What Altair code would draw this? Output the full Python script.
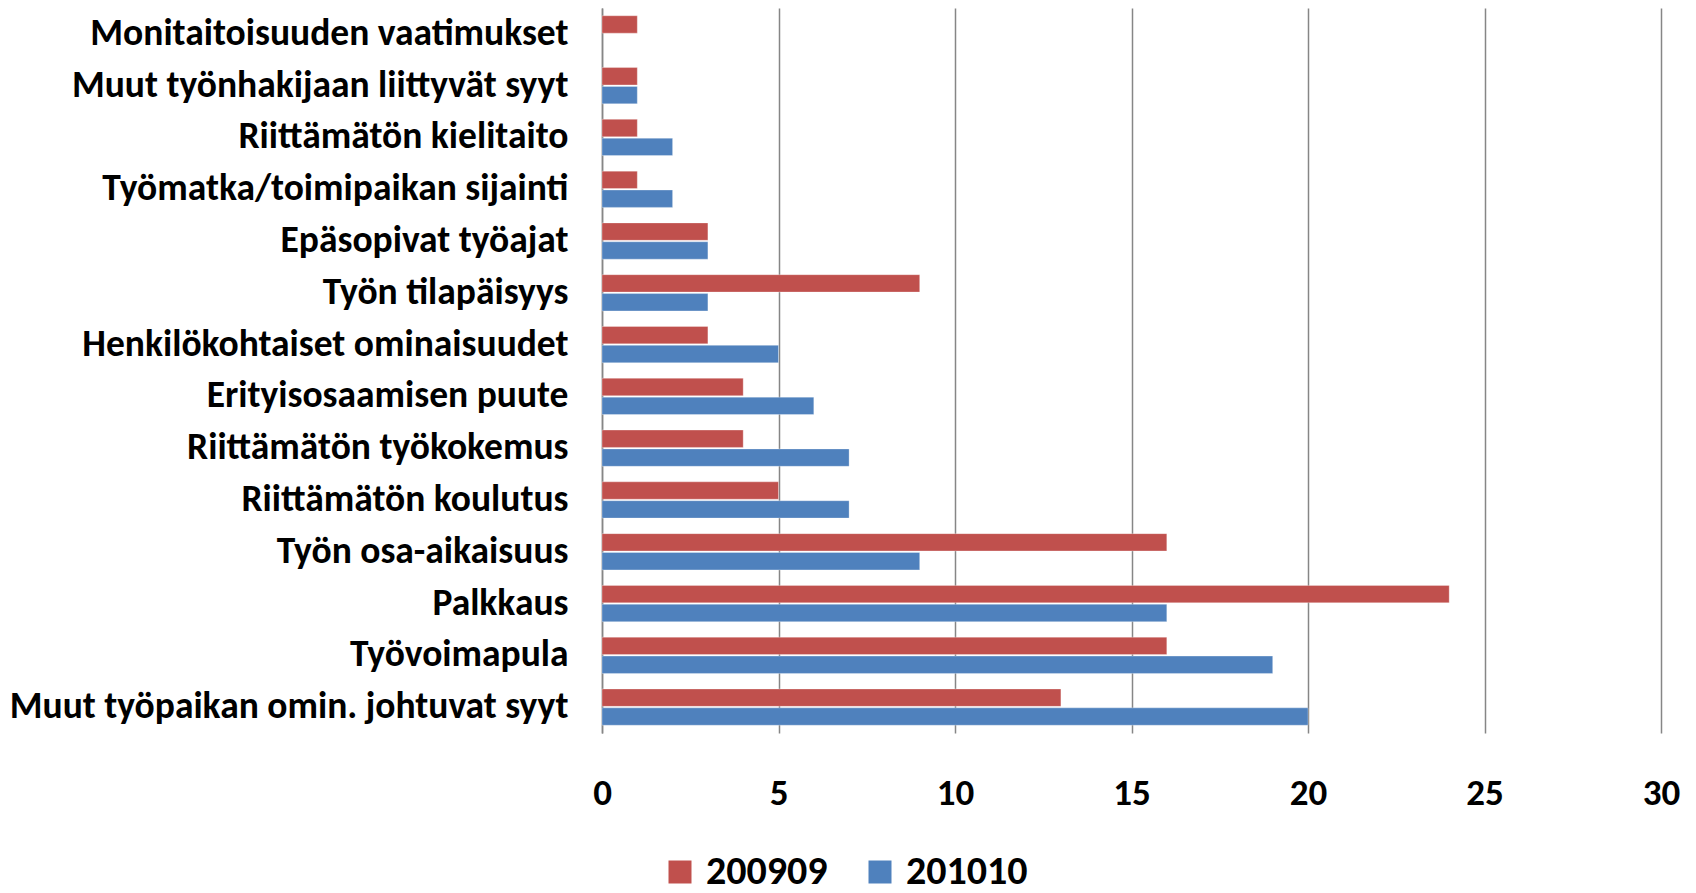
import altair as alt
import pandas as pd

categories = [
    "Monitaitoisuuden vaatimukset",
    "Muut työnhakijaan liittyvät syyt",
    "Riittämätön kielitaito",
    "Työmatka/toimipaikan sijainti",
    "Epäsopivat työajat",
    "Työn tilapäisyys",
    "Henkilökohtaiset ominaisuudet",
    "Erityisosaamisen puute",
    "Riittämätön työkokemus",
    "Riittämätön koulutus",
    "Työn osa-aikaisuus",
    "Palkkaus",
    "Työvoimapula",
    "Muut työpaikan omin. johtuvat syyt",
]
series_names = ["200909", "201010"]
values_200909 = [1, 1, 1, 1, 3, 9, 3, 4, 4, 5, 16, 24, 16, 13]
values_201010 = [None, 1, 2, 2, 3, 3, 5, 6, 7, 7, 9, 16, 19, 20]
colors = ["#C0504D", "#4F81BD"]
x_ticks = [0, 5, 10, 15, 20, 25, 30]

rows = []
for c, a, b in zip(categories, values_200909, values_201010):
    rows.append({"Syy": c, "Sarja": series_names[0], "Arvo": a})
    if b is not None:
        rows.append({"Syy": c, "Sarja": series_names[1], "Arvo": b})
df = pd.DataFrame(rows)

FONT = "Carlito, Liberation Sans Narrow, Roboto, Liberation Sans, sans-serif"

chart = (
    alt.Chart(df)
    .mark_bar(stroke="white", strokeWidth=0.5, strokeOpacity=0.6)
    .encode(
        y=alt.Y(
            "Syy:N",
            sort=categories,
            scale=alt.Scale(paddingInner=0.3, paddingOuter=0.15),
            axis=alt.Axis(
                title=None,
                ticks=False,
                labelFontSize=37.5,
                labelFont=FONT,
                labelFontWeight="bold",
                labelColor="#000000",
                labelPadding=34,
                labelLimit=700,
                domainColor="#868686",
                domainWidth=1.5,
                minExtent=594,
                maxExtent=594,
                grid=False,
            ),
        ),
        yOffset=alt.YOffset(
            "Sarja:N",
            sort=series_names,
            scale=alt.Scale(paddingInner=0.08),
        ),
        x=alt.X(
            "Arvo:Q",
            scale=alt.Scale(domain=[0, 30], nice=False),
            axis=alt.Axis(
                title=None,
                values=x_ticks,
                ticks=False,
                domain=False,
                grid=True,
                gridColor="#868686",
                gridWidth=1.5,
                labelFontSize=37,
                labelFont=FONT,
                labelFontWeight="bold",
                labelColor="#000000",
                labelPadding=42,
                labelFlush=False,
            ),
        ),
        color=alt.Color(
            "Sarja:N",
            sort=series_names,
            scale=alt.Scale(domain=series_names, range=colors),
            legend=alt.Legend(
                title=None,
                orient="none",
                direction="horizontal",
                legendX=58,
                legendY=844,
                symbolType="square",
                symbolSize=529,
                symbolStrokeWidth=0,
                symbolOpacity=1,
                labelFontSize=40,
                labelFont=FONT,
                labelFontWeight="bold",
                labelColor="#000000",
                labelOffset=6,
                columnPadding=32,
                labelLimit=300,
            ),
        ),
    )
    .properties(width=1059, height=725, padding={"left": 0, "top": 0, "right": 5, "bottom": 5})
    .configure_view(stroke=None)
)

chart.save("out.html", embed_options={"renderer": "svg", "actions": False})
